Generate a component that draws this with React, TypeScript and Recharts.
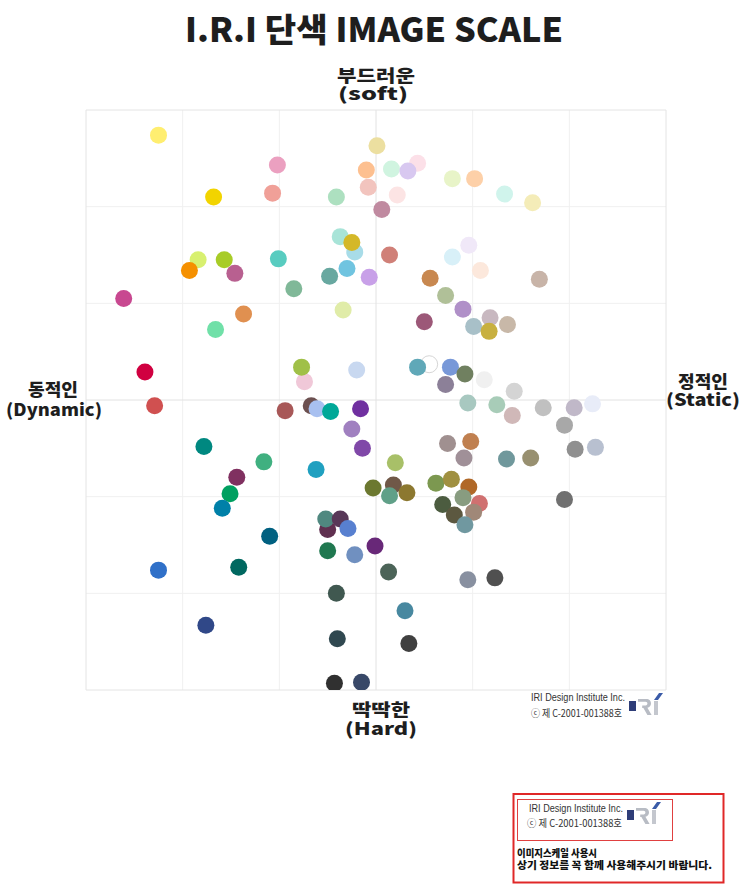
import React from 'react';
import { ScatterChart, Scatter, XAxis, YAxis, ReferenceLine } from 'recharts';

type P = { x: number; y: number; c: string };

// Soft / Dynamic quadrant
const softDynamic: P[] = [
  { x: -2.25, y: 2.74, c: '#FFEE70' },
  { x: -1.02, y: 2.43, c: '#EBA0C0' },
  { x: -0.10, y: 2.38, c: '#FDC090' },
  { x: -0.08, y: 2.20, c: '#F2C4BE' },
  { x: -0.41, y: 2.10, c: '#ADE0C0' },
  { x: -1.68, y: 2.10, c: '#F2D400' },
  { x: -1.07, y: 2.14, c: '#F0A098' },
  { x: -0.37, y: 1.69, c: '#A8E4D8' },
  { x: -0.22, y: 1.53, c: '#A8DCE8' },
  { x: -0.25, y: 1.63, c: '#D4B828' },
  { x: -1.84, y: 1.45, c: '#D8F070' },
  { x: -1.57, y: 1.45, c: '#A8CC28' },
  { x: -1.93, y: 1.34, c: '#F59000' },
  { x: -1.46, y: 1.31, c: '#B86090' },
  { x: -1.01, y: 1.46, c: '#58CCC0' },
  { x: -0.85, y: 1.15, c: '#80B898' },
  { x: -0.48, y: 1.28, c: '#68A8A0' },
  { x: -0.30, y: 1.36, c: '#70C4E0' },
  { x: -0.07, y: 1.27, c: '#C8A0E8' },
  { x: -2.61, y: 1.05, c: '#C84890' },
  { x: -0.34, y: 0.93, c: '#E0ECA8' },
  { x: -1.37, y: 0.89, c: '#E09050' },
  { x: -1.66, y: 0.73, c: '#70E0A8' },
  { x: -2.39, y: 0.29, c: '#D00040' },
  { x: -0.74, y: 0.19, c: '#F0C8D8' },
  { x: -0.77, y: 0.34, c: '#A0C048' },
  { x: -0.20, y: 0.31, c: '#C8D8F0' },
];

// Soft / Static quadrant
const softStatic: P[] = [
  { x: 0.01, y: 2.63, c: '#ECDFA0' },
  { x: 0.06, y: 1.97, c: '#C08AA0' },
  { x: 0.14, y: 1.50, c: '#D08078' },
  { x: 0.43, y: 2.45, c: '#FCE0E8' },
  { x: 0.16, y: 2.39, c: '#D0F4E0' },
  { x: 0.33, y: 2.37, c: '#D8C8F0' },
  { x: 0.22, y: 2.12, c: '#FCE4E4' },
  { x: 0.79, y: 2.29, c: '#E8F4C8' },
  { x: 1.02, y: 2.29, c: '#FDD0A8' },
  { x: 1.33, y: 2.13, c: '#D0F4EC' },
  { x: 1.62, y: 2.04, c: '#F4ECB8' },
  { x: 0.96, y: 1.60, c: '#F0E8F8' },
  { x: 0.79, y: 1.48, c: '#D8F0F8' },
  { x: 1.08, y: 1.34, c: '#FCE8DC' },
  { x: 0.56, y: 1.26, c: '#C88850' },
  { x: 1.69, y: 1.25, c: '#C8B4A8' },
  { x: 0.72, y: 1.08, c: '#B0C098' },
  { x: 0.90, y: 0.94, c: '#B090C8' },
  { x: 0.50, y: 0.81, c: '#9C5878' },
  { x: 1.18, y: 0.85, c: '#C8B8C0' },
  { x: 1.01, y: 0.76, c: '#A8C0C8' },
  { x: 1.17, y: 0.71, c: '#C8B040' },
  { x: 1.36, y: 0.78, c: '#C8B8A8' },
  { x: 0.55, y: 0.37, c: '#FFFFFF' },
  { x: 0.43, y: 0.34, c: '#60A8B8' },
  { x: 0.77, y: 0.34, c: '#7898D8' },
  { x: 0.72, y: 0.16, c: '#8C8098' },
  { x: 0.92, y: 0.27, c: '#708060' },
  { x: 1.12, y: 0.21, c: '#F0F0F0' },
  { x: 1.43, y: 0.09, c: '#D4D4D4' },
];

// Hard / Static quadrant
const hardStatic: P[] = [
  { x: 0.95, y: -0.03, c: '#A8C8C0' },
  { x: 1.25, y: -0.05, c: '#A8CCB8' },
  { x: 1.73, y: -0.08, c: '#C0C0C0' },
  { x: 2.05, y: -0.08, c: '#C0B8C8' },
  { x: 2.24, y: -0.04, c: '#E8ECF8' },
  { x: 1.41, y: -0.16, c: '#D0B8B8' },
  { x: 1.95, y: -0.26, c: '#A8A8A8' },
  { x: 2.06, y: -0.51, c: '#909090' },
  { x: 2.27, y: -0.49, c: '#B8C0D0' },
  { x: 0.74, y: -0.45, c: '#A09090' },
  { x: 0.98, y: -0.43, c: '#C08050' },
  { x: 0.91, y: -0.60, c: '#A09098' },
  { x: 1.35, y: -0.61, c: '#70989C' },
  { x: 1.60, y: -0.60, c: '#989070' },
  { x: 0.20, y: -0.65, c: '#A8C068' },
  { x: 0.18, y: -0.88, c: '#705848' },
  { x: 0.14, y: -0.99, c: '#60A088' },
  { x: 0.32, y: -0.96, c: '#8C7830' },
  { x: 0.62, y: -0.86, c: '#7C9850' },
  { x: 0.78, y: -0.82, c: '#A09040' },
  { x: 0.96, y: -0.90, c: '#B06828' },
  { x: 1.07, y: -1.07, c: '#D07070' },
  { x: 0.90, y: -1.01, c: '#889C80' },
  { x: 0.69, y: -1.08, c: '#4C5C40' },
  { x: 0.81, y: -1.19, c: '#5C5840' },
  { x: 1.01, y: -1.16, c: '#A08878' },
  { x: 0.92, y: -1.29, c: '#7098A0' },
  { x: 1.95, y: -1.03, c: '#707070' },
  { x: 0.13, y: -1.78, c: '#4C6458' },
  { x: 0.95, y: -1.86, c: '#8890A0' },
  { x: 1.23, y: -1.84, c: '#505050' },
  { x: 0.30, y: -2.18, c: '#4888A0' },
  { x: 0.34, y: -2.52, c: '#404040' },
];

// Hard / Dynamic quadrant
const hardDynamic: P[] = [
  { x: -2.29, y: -0.06, c: '#D05050' },
  { x: -0.94, y: -0.11, c: '#A85858' },
  { x: -0.67, y: -0.06, c: '#6C5050' },
  { x: -0.61, y: -0.09, c: '#A8C0F0' },
  { x: -0.47, y: -0.12, c: '#00A898' },
  { x: -0.16, y: -0.09, c: '#7030A0' },
  { x: -0.25, y: -0.30, c: '#A080C0' },
  { x: -0.14, y: -0.50, c: '#8048A8' },
  { x: -1.78, y: -0.48, c: '#008880' },
  { x: -1.16, y: -0.64, c: '#40B080' },
  { x: -0.62, y: -0.72, c: '#20A0C0' },
  { x: -1.44, y: -0.80, c: '#803060' },
  { x: -1.51, y: -0.97, c: '#00A060' },
  { x: -1.59, y: -1.12, c: '#0080A8' },
  { x: -1.10, y: -1.41, c: '#006080' },
  { x: -0.03, y: -0.91, c: '#6C7830' },
  { x: -0.50, y: -1.34, c: '#603050' },
  { x: -0.52, y: -1.23, c: '#508880' },
  { x: -0.37, y: -1.23, c: '#583858' },
  { x: -0.29, y: -1.33, c: '#5880D0' },
  { x: -0.50, y: -1.56, c: '#207850' },
  { x: -0.22, y: -1.60, c: '#7090C0' },
  { x: -0.01, y: -1.51, c: '#682878' },
  { x: -2.25, y: -1.76, c: '#3070C8' },
  { x: -1.42, y: -1.73, c: '#006860' },
  { x: -0.41, y: -2.00, c: '#405850' },
  { x: -1.76, y: -2.33, c: '#304888' },
  { x: -0.40, y: -2.47, c: '#304850' },
  { x: -0.43, y: -2.93, c: '#303030' },
  { x: -0.15, y: -2.92, c: '#384868' },
];

const axisDomain: [number, number] = [-3, 3];
const gridValues = [-2, -1, 1, 2];
const frameValues = [-3, 3];

const title = 'I.R.I 단색 IMAGE SCALE';
const labelSoft = ['부드러운', '(soft)'];
const labelHard = ['딱딱한', '(Hard)'];
const labelDynamic = ['동적인', '(Dynamic)'];
const labelStatic = ['정적인', '(Static)'];
const credit = ['IRI Design Institute Inc.', 'ⓒ 제 C-2001-001388호'];
const notice = ['이미지스케일 사용시', '상기 정보를 꼭 함께 사용해주시기 바랍니다.'];

const allPoints: P[] = [...softDynamic, ...softStatic, ...hardStatic, ...hardDynamic];

const KFONT = "'Noto Sans CJK KR', 'Noto Sans', sans-serif";
const AFONT = "'Liberation Sans', Arial, sans-serif";

const Dot = (props: any) => {
  const { cx, cy, payload } = props;
  if (cx == null || cy == null) return null;
  const c = payload?.c ?? props.fill;
  const isWhite = c === '#FFFFFF';
  return (
    <circle
      cx={cx}
      cy={cy}
      r={8.5}
      fill={c}
      stroke={isWhite ? '#D6D6D6' : 'none'}
      strokeWidth={isWhite ? 1 : 0}
    />
  );
};

const Logo = ({ x, y }: { x: number; y: number }) => (
  <g transform={`translate(${x},${y})`}>
    <rect x={0} y={8} width={7} height={10} fill="#2E3D78" />
    <path
      d="M9,6 h8 c3.5,0 5,2 5,4.5 c0,2.2 -1.4,3.8 -3.6,4.2 l4.2,7.3 h-4.2 l-4,-7 h-1.2 v-2.6 h3.4 c1.2,0 1.8,-0.8 1.8,-1.9 c0,-1.1 -0.7,-1.8 -1.9,-1.8 h-7.5 z"
      fill="#B8BCC4"
    />
    <rect x={25} y={8} width={4} height={14} fill="#C4C7CE" />
    <path d="M25,7 L29,7 L34,0 L30,0 Z" fill="#3A5BA8" />
  </g>
);

const T = ({ x, y, len, size, weight, font, fill, children }: any) => (
  <text
    x={x}
    y={y}
    fontSize={size}
    fontWeight={weight}
    fontFamily={font}
    fill={fill}
    textLength={len}
    lengthAdjust="spacingAndGlyphs"
  >
    {children}
  </text>
);

export default function App() {
  return (
    <div style={{ position: 'absolute', left: 0, top: 0, width: 743, height: 890, background: '#fff' }}>
      <ScatterChart
        width={743}
        height={890}
        margin={{ top: 110, right: 77, bottom: 200, left: 86 }}
      >
        <XAxis type="number" dataKey="x" domain={axisDomain} hide allowDataOverflow />
        <YAxis type="number" dataKey="y" domain={axisDomain} hide allowDataOverflow />
        {gridValues.map((v) => (
          <ReferenceLine key={`gx${v}`} x={v} stroke="#F0F0F0" strokeWidth={1} />
        ))}
        {gridValues.map((v) => (
          <ReferenceLine key={`gy${v}`} y={v} stroke="#F0F0F0" strokeWidth={1} />
        ))}
        <ReferenceLine x={0} stroke="#E2E2E2" strokeWidth={1} />
        <ReferenceLine y={0} stroke="#E2E2E2" strokeWidth={1} />
        {frameValues.map((v) => (
          <ReferenceLine key={`fx${v}`} x={v} stroke="#E4E4E4" strokeWidth={1} />
        ))}
        {frameValues.map((v) => (
          <ReferenceLine key={`fy${v}`} y={v} stroke="#E4E4E4" strokeWidth={1} />
        ))}
        <Scatter data={allPoints} shape={Dot} isAnimationActive={false} />
      </ScatterChart>
      <svg
        width={743}
        height={890}
        style={{ position: 'absolute', left: 0, top: 0, pointerEvents: 'none' }}
      >
        <T x={185} y={42} len={378} size={33} weight={900} font={KFONT} fill="#1E1E1E">{title}</T>

        <T x={337} y={82} len={78} size={17} weight={900} font={KFONT} fill="#1E1E1E">{labelSoft[0]}</T>
        <T x={338} y={100} len={70} size={17} weight={900} font={KFONT} fill="#1E1E1E">{labelSoft[1]}</T>

        <T x={28} y={396} len={50} size={17} weight={900} font={KFONT} fill="#1E1E1E">{labelDynamic[0]}</T>
        <T x={6} y={416} len={96} size={17} weight={900} font={KFONT} fill="#1E1E1E">{labelDynamic[1]}</T>

        <T x={678} y={388} len={50} size={17} weight={900} font={KFONT} fill="#1E1E1E">{labelStatic[0]}</T>
        <T x={666} y={406} len={74} size={17} weight={900} font={KFONT} fill="#1E1E1E">{labelStatic[1]}</T>

        <T x={352} y={716} len={58} size={17} weight={900} font={KFONT} fill="#1E1E1E">{labelHard[0]}</T>
        <T x={345} y={735} len={72} size={17} weight={900} font={KFONT} fill="#1E1E1E">{labelHard[1]}</T>

        <T x={531} y={701} len={94} size={10} weight={400} font={AFONT} fill="#333">{credit[0]}</T>
        <T x={531} y={717} len={91} size={10} weight={400} font={KFONT} fill="#333">{credit[1]}</T>
        <Logo x={629} y={693} />

        <rect x={513.5} y={794} width={210} height={88.5} fill="none" stroke="#E02828" strokeWidth={2} />
        <rect x={517.5} y={799.5} width={155} height={41} fill="none" stroke="#E04040" strokeWidth={1} />
        <T x={529} y={812} len={94} size={10} weight={400} font={AFONT} fill="#333">{credit[0]}</T>
        <T x={527} y={827} len={95} size={10} weight={400} font={KFONT} fill="#333">{credit[1]}</T>
        <Logo x={627} y={802} />
        <T x={517} y={857} len={80} size={10} weight={900} font={KFONT} fill="#111">{notice[0]}</T>
        <T x={517} y={869} len={195} size={10} weight={900} font={KFONT} fill="#111">{notice[1]}</T>
      </svg>
    </div>
  );
}
